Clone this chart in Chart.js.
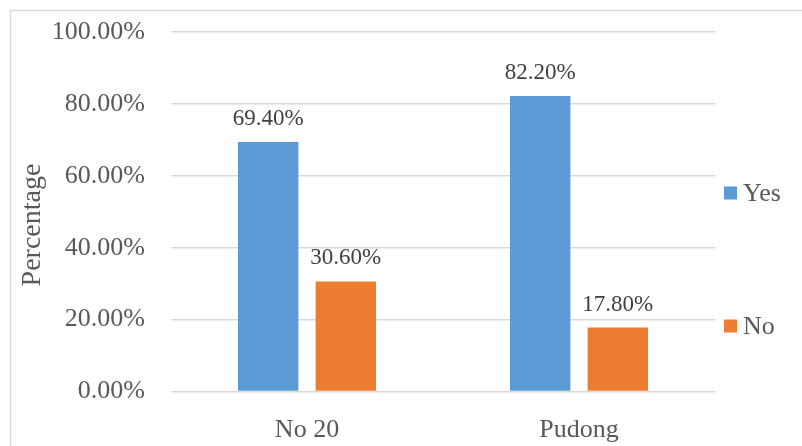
<!DOCTYPE html>
<html>
<head>
<meta charset="utf-8">
<script src="https://cdn.jsdelivr.net/npm/chart.js@4"></script>
<style>
  body { margin: 0; background: #fff; overflow: hidden; }
  canvas { display: block; }
</style>
</head>
<body>
<canvas id="surveyChart" width="802" height="446"></canvas>
<script>
const categories = ['No 20', 'Pudong'];
const yesValues = [69.4, 82.2];
const noValues = [30.6, 17.8];
const yTickStep = 20;
const yMax = 100;
const yTitle = 'Percentage';

const SERIF = "'Liberation Serif', 'Times New Roman', serif";
const GRID = '#D9D9D9';

// Light frame around the whole chart
const framePlugin = {
  id: 'frame',
  beforeDraw(chart) {
    const c = chart.ctx;
    c.save();
    c.fillStyle = '#fff';
    c.fillRect(0, 0, chart.width, chart.height);
    c.strokeStyle = GRID;
    c.lineWidth = 1.5;
    c.strokeRect(10.5, 10.5, 800, 440);
    c.restore();
  }
};

// Vertical axis title, sits a little below the plot middle
const axisTitle = {
  id: 'axisTitle',
  afterDraw(chart) {
    const c = chart.ctx;
    c.save();
    c.translate(33, 225);
    c.rotate(-Math.PI / 2);
    c.font = '28px ' + SERIF;
    c.fillStyle = '#595959';
    c.textAlign = 'center';
    c.textBaseline = 'middle';
    c.fillText(yTitle, 0, 0);
    c.restore();
  }
};

// Percentage labels over each bar
const valueLabels = {
  id: 'valueLabels',
  afterDatasetsDraw(chart) {
    const c = chart.ctx;
    c.save();
    c.font = '23px ' + SERIF;
    c.fillStyle = '#404040';
    c.textAlign = 'center';
    c.textBaseline = 'alphabetic';
    chart.data.datasets.forEach((ds, i) => {
      chart.getDatasetMeta(i).data.forEach((bar, j) => {
        c.fillText(ds.data[j].toFixed(2) + '%', bar.x, bar.y - 17);
      });
    });
    c.restore();
  }
};

// Legend on the right, items spread apart
const sideLegend = {
  id: 'sideLegend',
  afterDraw(chart) {
    const c = chart.ctx;
    const rows = [193, 326];
    c.save();
    c.font = '26px ' + SERIF;
    c.textBaseline = 'middle';
    c.textAlign = 'left';
    chart.data.datasets.forEach((ds, i) => {
      const y = rows[i];
      c.fillStyle = ds.backgroundColor;
      c.fillRect(724, y - 6.5, 13, 13);
      c.fillStyle = '#595959';
      c.fillText(ds.label, 743, y + 1);
    });
    c.restore();
  }
};

const ctx = document.getElementById('surveyChart').getContext('2d');
const chart = new Chart(ctx, {
  type: 'bar',
  data: {
    labels: categories,
    datasets: [
      { label: 'Yes', data: yesValues, backgroundColor: '#5B9BD5' },
      { label: 'No', data: noValues, backgroundColor: '#ED7D31' }
    ]
  },
  options: {
    responsive: false,
    animation: false,
    categoryPercentage: 0.571,
    barPercentage: 0.778,
    layout: { padding: { left: 12, top: 32, right: 87, bottom: 0 } },
    plugins: {
      legend: { display: false },
      tooltip: { enabled: false }
    },
    scales: {
      x: {
        grid: { display: false },
        border: { display: false },
        ticks: { color: '#595959', font: { family: SERIF, size: 26 }, padding: 15 },
        afterFit(scale) { scale.height = 54.5; }
      },
      y: {
        min: 0,
        max: yMax,
        grid: { color: GRID, lineWidth: 1.5, drawTicks: false },
        border: { display: false },
        ticks: {
          stepSize: yTickStep,
          color: '#595959',
          font: { family: SERIF, size: 26 },
          padding: 26,
          callback: v => v.toFixed(2) + '%'
        },
        afterFit(scale) {
          // tick padding is horizontal here, keep it out of the top/bottom reserve
          scale.width = 159;
          scale.paddingTop = 16;
          scale.paddingBottom = 16;
        }
      }
    }
  },
  plugins: [framePlugin, valueLabels, sideLegend, axisTitle]
});
</script>
</body>
</html>
